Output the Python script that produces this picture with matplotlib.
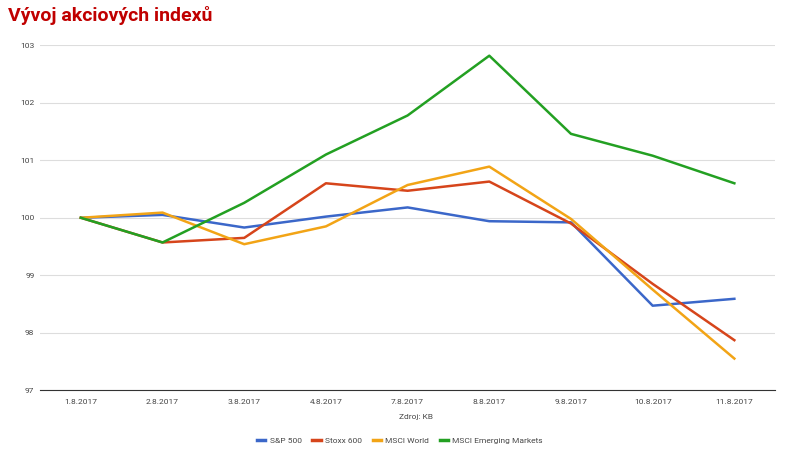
import matplotlib
matplotlib.use("Agg")
import matplotlib.pyplot as plt
from matplotlib.lines import Line2D
plt.rcParams["font.family"] = "Roboto"

dates = ["1.8.2017","2.8.2017","3.8.2017","4.8.2017","7.8.2017","8.8.2017","9.8.2017","10.8.2017","11.8.2017"]
sp500 = [100.0,100.05,99.83,100.02,100.18,99.94,99.92,98.47,98.59]
stoxx600 = [100.0,99.57,99.65,100.6,100.47,100.63,99.9,98.85,97.87]
msci_world = [100.0,100.09,99.54,99.85,100.57,100.89,99.98,98.75,97.55]
msci_em = [100.0,99.57,100.26,101.1,101.78,102.82,101.46,101.08,100.6]
series = [("S&P 500", sp500, "#3b67c9"), ("Stoxx 600", stoxx600, "#d6451b"),
          ("MSCI World", msci_world, "#f2a416"), ("MSCI Emerging Markets", msci_em, "#23a022")]

fig = plt.figure(figsize=(8, 4.49), dpi=100)
ax = fig.add_axes([0.05, 0.131, 0.919, 0.768])
x = list(range(len(dates)))
for name, vals, c in series:
    ax.plot(x, vals, color=c, lw=1.8, label=name)
ax.set_xlim(-0.5, len(dates) - 0.5)
ax.set_ylim(97, 103)
ax.set_yticks(range(97, 104))
ax.set_xticks(x)
ax.set_xticklabels(dates)
ax.tick_params(length=0, labelsize=6, colors="#444444")
ax.tick_params(axis="y", pad=4)
ax.tick_params(axis="x", pad=6)
ax.grid(axis="y", color="#dddddd", lw=0.8)
for s in ax.spines.values():
    s.set_visible(False)
ax.spines["bottom"].set_visible(True)
ax.spines["bottom"].set_color("#333333")
fig.text(0.52, 0.071, "Zdroj: KB", ha="center", va="center", fontsize=6, color="#444444")
fig.text(0.01, 0.965, "Vývoj akciových indexů", ha="left", va="center", fontsize=14,
         fontweight="bold", color="#c00000")
handles = [Line2D([], [], color=c, lw=2.5) for _, _, c in series]
fig.legend(handles, [n for n, _, _ in series], loc="center", bbox_to_anchor=(0.5, 0.018),
           ncol=4, frameon=False, fontsize=6, handlelength=1, handletextpad=0.5,
           columnspacing=1.3, labelcolor="#444444")
fig.savefig("out.png", dpi=100)
